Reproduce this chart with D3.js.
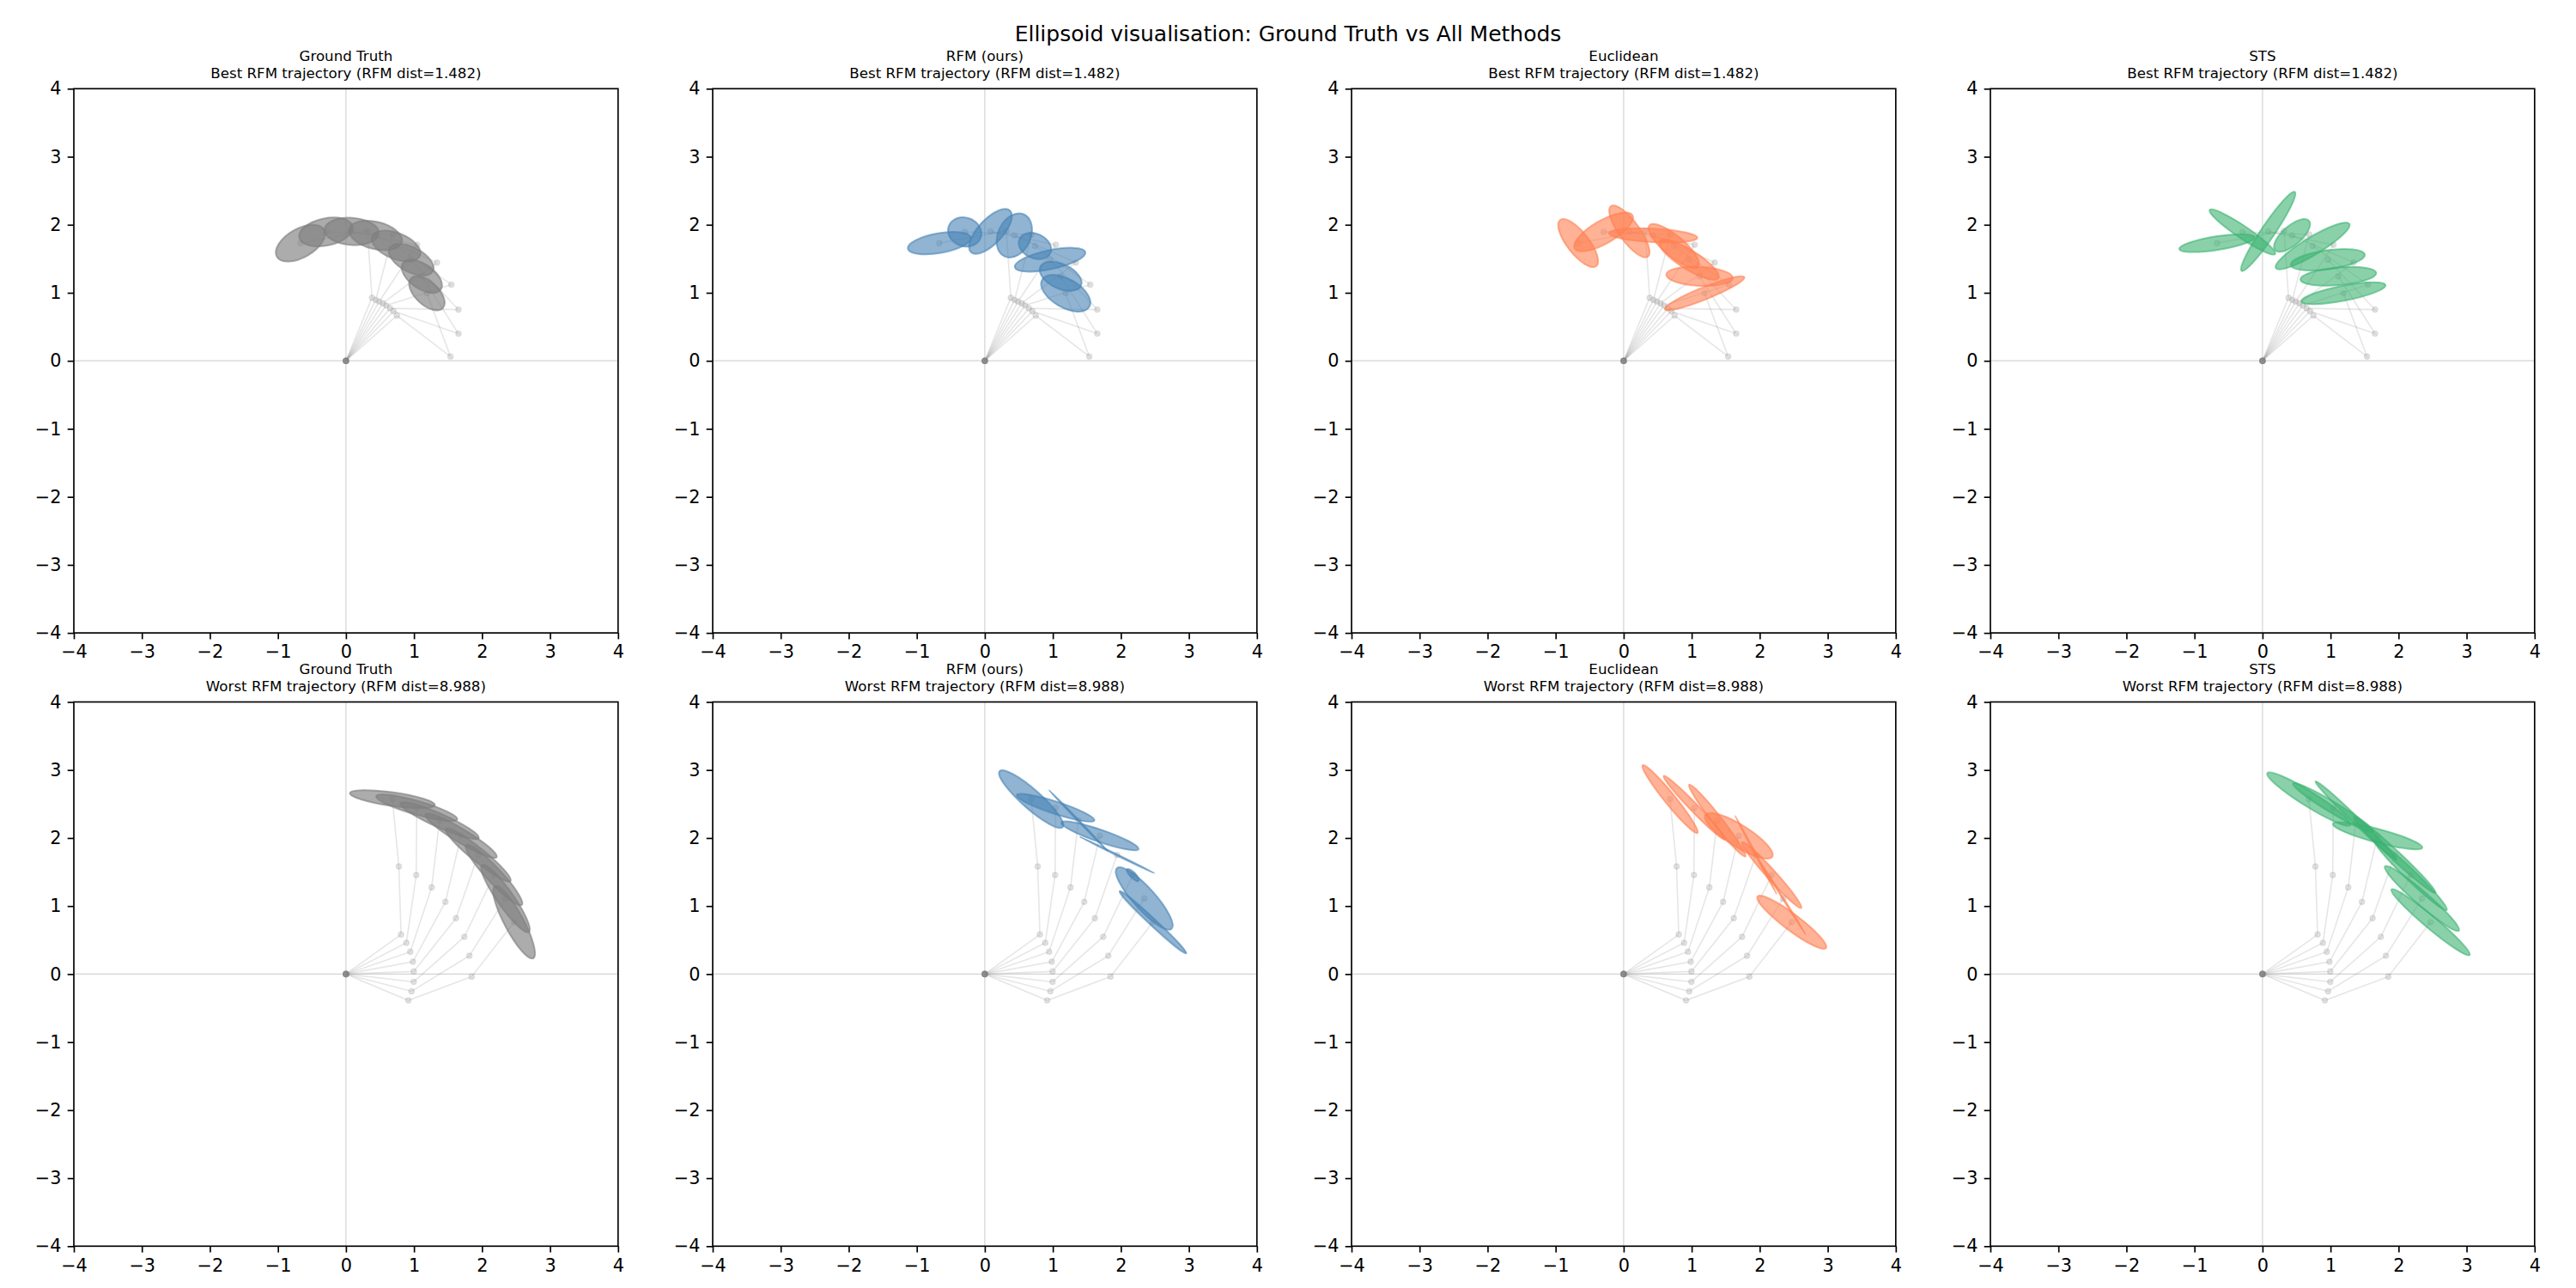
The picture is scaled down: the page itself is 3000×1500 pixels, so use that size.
<!DOCTYPE html>
<html>
<head>
<meta charset="utf-8">
<script src="https://cdn.jsdelivr.net/npm/d3@7"></script>
<style>
  html, body { margin: 0; padding: 0; background: #ffffff; }
  svg { display: block; }
  text { font-family: "DejaVu Sans", sans-serif; fill: #000; }
</style>
</head>
<body>
<svg id="chart" width="3000" height="1500"></svg>
<script>
// ---------------- data ----------------
const methodNames = ["Ground Truth", "RFM (ours)", "Euclidean", "STS"];
const methodColors = ["#808080", "#4682b4", "#ff7f50", "#3cb371"];
const rowSubtitles = ["Best RFM trajectory (RFM dist=1.482)", "Worst RFM trajectory (RFM dist=8.988)"];
const suptitle = "Ellipsoid visualisation: Ground Truth vs All Methods";
const tickValues = [-4, -3, -2, -1, 0, 1, 2, 3, 4];

// arm configurations (joint positions) – best trajectory
const bestJoint1 = [[0.383,0.926],[0.438,0.896],[0.488,0.871],[0.543,0.846],[0.593,0.813],[0.648,0.771],[0.699,0.729],[0.749,0.665]];
const bestJoint2 = [[0.316,1.911],[0.686,1.856],[1.044,1.705],[1.338,1.444],[1.549,1.120],[1.654,0.753],[1.654,0.400],[1.536,0.063]];
const bestEnd    = [[-0.669,1.730],[-0.295,1.894],[0.084,1.902],[0.434,1.843],[0.737,1.688],[0.960,1.486],[1.115,1.242],[1.190,0.993]];

// arm configurations – worst trajectory
const worstJoint1 = [[0.810,0.581],[0.888,0.459],[0.945,0.328],[0.985,0.181],[0.996,0.038],[0.996,-0.114],[0.964,-0.253],[0.917,-0.387]];
const worstJoint2 = [[0.778,1.582],[1.033,1.456],[1.260,1.275],[1.462,1.061],[1.618,0.821],[1.740,0.547],[1.814,0.269],[1.848,-0.038]];
const worstEnd    = [[0.682,2.572],[1.040,2.445],[1.376,2.256],[1.692,2.033],[1.944,1.751],[2.176,1.456],[2.344,1.111],[2.471,0.762]];

// ellipses: [semi-major, semi-minor, angle in degrees] per end-effector
const gtBest   = [[0.40,0.21,30],[0.40,0.20,12],[0.40,0.20,-4],[0.40,0.20,-14],[0.38,0.19,-22],[0.36,0.18,-28],[0.34,0.18,-35],[0.32,0.17,-43]];
const rfmBest  = [[0.47,0.145,10],[0.25,0.21,-20],[0.42,0.18,47],[0.34,0.24,65],[0.25,0.18,-25],[0.53,0.14,12],[0.33,0.18,-25],[0.40,0.21,-30]];
const eucBest  = [[0.43,0.16,-52],[0.49,0.17,30],[0.46,0.15,-54],[0.65,0.10,-3],[0.47,0.15,-40],[0.51,0.14,-32],[0.49,0.14,-3],[0.63,0.09,22]];
const stsBest  = [[0.56,0.10,9],[0.58,0.09,-34],[0.70,0.10,56],[0.33,0.14,41],[0.63,0.13,31],[0.55,0.14,8],[0.56,0.13,5],[0.63,0.11,11]];

const gtWorst  = [[0.63,0.10,-8],[0.62,0.10,-16],[0.63,0.10,-24],[0.61,0.10,-31],[0.61,0.10,-39],[0.60,0.11,-47],[0.60,0.12,-55],[0.60,0.14,-62]];
const rfmWorst = [[0.62,0.14,-41.5],[0.60,0.09,-18],[0.62,0.008,-46],[0.60,0.09,-19],[0.61,0.008,-26],[0.12,0.04,-45],[0.60,0.16,-48],[0.67,0.05,-43]];
const eucWorst = [[0.64,0.08,-51],[0.65,0.06,-46],[0.67,0.07,-52],[0.58,0.16,-32],[0.65,0.008,-62],[0.65,0.07,-48],[0.63,0.008,-58],[0.63,0.12,-37]];
const stsWorst = [[0.72,0.11,-32],[0.69,0.08,-31],[0.83,0.05,-44],[0.68,0.10,-15],[0.82,0.07,-43],[0.74,0.08,-44],[0.72,0.10,-41],[0.75,0.09,-40]];

const rows = [
  { sub: rowSubtitles[0], j1: bestJoint1, j2: bestJoint2, ee: bestEnd, ell: [gtBest, rfmBest, eucBest, stsBest] },
  { sub: rowSubtitles[1], j1: worstJoint1, j2: worstJoint2, ee: worstEnd, ell: [gtWorst, rfmWorst, eucWorst, stsWorst] }
];

// ---------------- layout ----------------
const colLeft = [86, 830, 1574, 2318];
const rowTop = [103.3, 817.5];
const S = 633.8;
const tickLen = 7.3, tickPad = 7.3;
const tickFont = 20.8, titleFont = 16.67;

const svg = d3.select("#chart");
svg.append("rect").attr("width", 3000).attr("height", 1500).attr("fill", "#fff");

svg.append("text")
  .attr("x", 1500).attr("y", 48)
  .attr("text-anchor", "middle")
  .style("font-size", "25px")
  .text(suptitle);

const x = d3.scaleLinear().domain([-4, 4]).range([0, S]);
const y = d3.scaleLinear().domain([-4, 4]).range([S, 0]);

rows.forEach((row, r) => {
  methodNames.forEach((name, c) => {
    const g = svg.append("g").attr("transform", `translate(${colLeft[c]},${rowTop[r]})`);

    // titles
    g.append("text").attr("x", S / 2).attr("y", -32.8)
      .attr("text-anchor", "middle").style("font-size", titleFont + "px").text(name);
    g.append("text").attr("x", S / 2).attr("y", -12.3)
      .attr("text-anchor", "middle").style("font-size", titleFont + "px").text(row.sub);

    // zero reference lines
    g.append("line").attr("x1", x(0)).attr("x2", x(0)).attr("y1", 0).attr("y2", S)
      .attr("stroke", "gray").attr("stroke-opacity", 0.35).attr("stroke-width", 1.2);
    g.append("line").attr("x1", 0).attr("x2", S).attr("y1", y(0)).attr("y2", y(0))
      .attr("stroke", "gray").attr("stroke-opacity", 0.35).attr("stroke-width", 1.2);

    // arm skeletons
    const line = d3.line().x(d => x(d[0])).y(d => y(d[1]));
    row.ee.forEach((e, i) => {
      const pts = [[0, 0], row.j1[i], row.j2[i], e];
      g.append("path").attr("d", line(pts))
        .attr("fill", "none").attr("stroke", "gray")
        .attr("stroke-opacity", 0.2).attr("stroke-width", 1.6);
      pts.forEach(p => {
        g.append("circle").attr("cx", x(p[0])).attr("cy", y(p[1])).attr("r", 3.1)
          .attr("fill", "gray").attr("fill-opacity", 0.2)
          .attr("stroke", "gray").attr("stroke-opacity", 0.2).attr("stroke-width", 1.4);
      });
    });

    // ellipses
    const col = methodColors[c];
    const op = c === 0 ? 0.65 : 0.6;
    row.ell[c].forEach((e, i) => {
      const cx = x(row.ee[i][0]), cy = y(row.ee[i][1]);
      g.append("ellipse")
        .attr("cx", cx).attr("cy", cy)
        .attr("rx", x(e[0]) - x(0)).attr("ry", y(0) - y(e[1]))
        .attr("transform", `rotate(${-e[2]},${cx},${cy})`)
        .attr("fill", col).attr("fill-opacity", op)
        .attr("stroke", col).attr("stroke-opacity", op).attr("stroke-width", 2);
    });

    // axes
    const fmt = d3.format("d");
    const xAxis = g.append("g").attr("transform", `translate(0,${S})`)
      .call(d3.axisBottom(x).tickValues(tickValues).tickFormat(fmt).tickSize(tickLen).tickSizeOuter(0).tickPadding(tickPad));
    const yAxis = g.append("g")
      .call(d3.axisLeft(y).tickValues(tickValues).tickFormat(fmt).tickSize(tickLen).tickSizeOuter(0).tickPadding(tickPad));
    [xAxis, yAxis].forEach(a => {
      a.select(".domain").remove();
      a.selectAll(".tick line").attr("stroke", "#000").attr("stroke-width", 1.67);
      a.selectAll(".tick text").style("font-size", tickFont + "px")
        .style("font-family", '"DejaVu Sans", sans-serif').attr("fill", "#000");
    });

    // frame
    g.append("rect").attr("x", 0).attr("y", 0).attr("width", S).attr("height", S)
      .attr("fill", "none").attr("stroke", "#000").attr("stroke-width", 1.67);
  });
});
</script>
</body>
</html>
